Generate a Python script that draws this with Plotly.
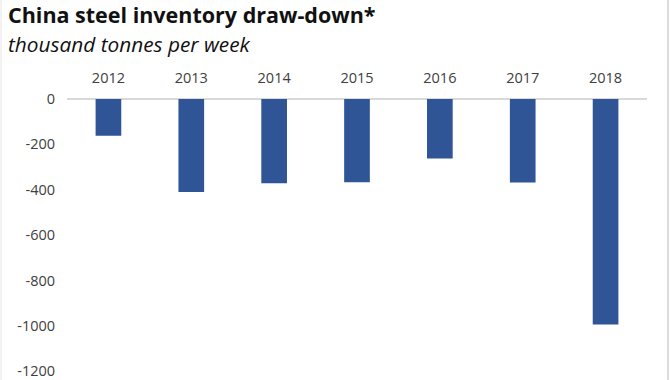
import plotly.graph_objects as go

years = ["2012", "2013", "2014", "2015", "2016", "2017", "2018"]
drawdown = [-162, -410, -371, -367, -262, -368, -994]
y_ticks = [0, -200, -400, -600, -800, -1000, -1200]

W, H = 670, 380
L, R, T, B = 67, 23, 99, 0
PW, PH = W - L - R, H - T - B

fig = go.Figure(go.Bar(x=years, y=drawdown, marker_color="#2F5597",
                       marker_line_width=0, width=0.31))

fig.update_layout(
    width=W, height=H,
    margin=dict(l=L, r=R, t=T, b=B),
    paper_bgcolor="white", plot_bgcolor="white",
    showlegend=False,
    font=dict(family="Open Sans", color="#404040", size=14),
    xaxis=dict(side="top", showgrid=False, zeroline=False, showline=False, automargin=False,
               ticks="outside", ticklen=9, tickcolor="rgba(0,0,0,0)",
               tickfont=dict(size=14.5, color="#404040")),
    yaxis=dict(range=[-1238, 0], tickvals=y_ticks, ticktext=[str(v) for v in y_ticks],
               showgrid=False, zeroline=True, zerolinecolor="#d9d9d9", zerolinewidth=1.5,
               showline=False, automargin=False, ticks="outside", ticklen=8,
               tickcolor="rgba(0,0,0,0)", ticklabeloverflow="allow",
               tickfont=dict(size=14.5, color="#404040")),
    annotations=[
        dict(text="<b>China steel inventory draw-down*</b>", xref="paper", yref="paper",
             x=(6 - L) / PW, y=1 + (T + 2) / PH, xanchor="left", yanchor="top",
             showarrow=False, font=dict(size=21.5, color="#111111", family="Open Sans")),
        dict(text="<i>thousand tonnes per week</i>", xref="paper", yref="paper",
             x=(6 - L) / PW, y=1 + (T - 28) / PH, xanchor="left", yanchor="top",
             showarrow=False, font=dict(size=20.8, color="#111111", family="Open Sans")),
    ],
    shapes=[
        dict(type="line", xref="paper", yref="paper",
             x0=(668 - L) / PW, x1=(668 - L) / PW, y0=-0.1, y1=1.5,
             line=dict(color="#d0d0d0", width=1.5)),
        dict(type="line", xref="paper", yref="paper",
             x0=(1 - L) / PW, x1=(1 - L) / PW, y0=-0.1, y1=1.5,
             line=dict(color="#e6e6e6", width=1)),
    ],
)

fig.write_html("out.html", config={"displayModeBar": False},
               post_script="document.body.style.margin='0px';")
